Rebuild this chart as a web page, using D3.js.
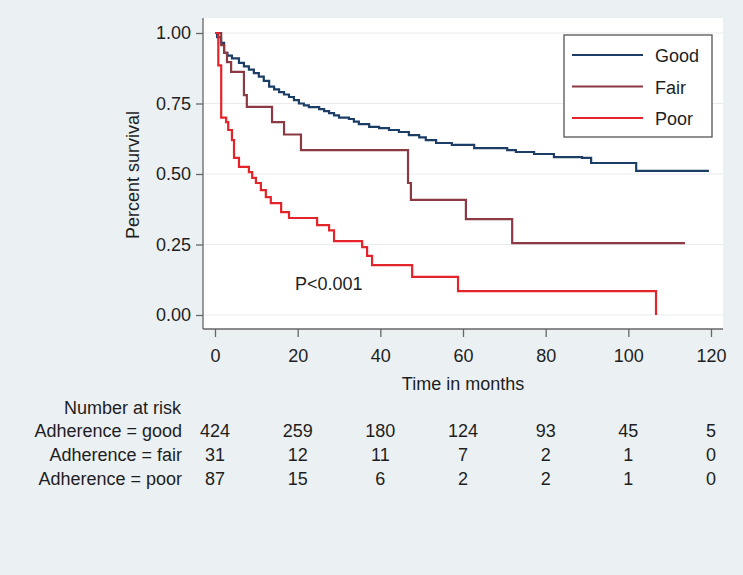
<!DOCTYPE html>
<html>
<head>
<meta charset="utf-8">
<script src="https://cdn.jsdelivr.net/npm/d3@7"></script>
<style>
	body { margin: 0; background: #ebf0f3; }
	text { font-family: "Liberation Sans", Arial, sans-serif; fill: #1e1e1e; }
</style>
</head>
<body>
<div id="chart-area"></div>
<script>
// Kaplan-Meier survival by adherence

let xTicks = [0, 20, 40, 60, 80, 100, 120];
let yTicks = [0, 0.25, 0.5, 0.75, 1];

let groups = ["Good", "Fair", "Poor"];
let groupColors = ["#1c3d66", "#8b3a44", "#e4242b"];

let goodTime = [0, 0.5, 1.45, 2.2, 3.0, 4.1, 5.8, 7.0, 8.2, 9.4, 10.6, 11.8, 13.1, 14.3, 15.5, 16.7, 17.9, 19.1, 20.3, 21.5, 22.7, 25.2, 26.4, 27.6, 28.8, 30.0, 32.4, 33.6, 34.8, 37.3, 39.7, 42.1, 44.5, 46.9, 49.4, 51.0, 53.5, 57.3, 62.7, 70.7, 72.8, 77.2, 82.0, 88.8, 91.0, 101.9, 119.5];
let goodSurv = [1, 0.985, 0.965, 0.93, 0.92, 0.91, 0.894, 0.882, 0.87, 0.858, 0.845, 0.83, 0.81, 0.8, 0.79, 0.782, 0.773, 0.762, 0.75, 0.743, 0.737, 0.73, 0.723, 0.716, 0.708, 0.7, 0.695, 0.686, 0.677, 0.667, 0.663, 0.656, 0.649, 0.638, 0.63, 0.62, 0.61, 0.603, 0.592, 0.585, 0.578, 0.571, 0.56, 0.557, 0.539, 0.511, 0.511];

let fairTime = [0, 1.5, 2.2, 2.9, 3.9, 7.0, 7.7, 13.8, 16.7, 20.8, 46.7, 47.4, 60.7, 71.9, 113.7];
let fairSurv = [1, 0.957, 0.93, 0.897, 0.862, 0.78, 0.738, 0.684, 0.64, 0.585, 0.468, 0.408, 0.34, 0.255, 0.255];

let poorTime = [0, 0.8, 1.5, 2.7, 3.2, 4.1, 4.6, 5.8, 8.2, 9.0, 9.9, 11.1, 12.3, 13.5, 16.0, 17.9, 24.7, 27.6, 28.8, 35.6, 36.8, 38.0, 47.7, 58.8, 106.7];
let poorSurv = [1, 0.885, 0.7, 0.684, 0.656, 0.62, 0.557, 0.525, 0.507, 0.486, 0.468, 0.443, 0.418, 0.397, 0.365, 0.344, 0.319, 0.3, 0.262, 0.241, 0.21, 0.177, 0.135, 0.085, 0];

let riskLabels = ["Adherence = good", "Adherence = fair", "Adherence = poor"];
let riskGood = [424, 259, 180, 124, 93, 45, 5];
let riskFair = [31, 12, 11, 7, 2, 1, 0];
let riskPoor = [87, 15, 6, 2, 2, 1, 0];

let width = 743;
let height = 575;
let plot = { left: 203, right: 723, top: 18, bottom: 329 };

let svg = d3.select("#chart-area")
	.append("svg")
	.attr("width", width)
	.attr("height", height);

svg.append("rect")
	.attr("width", width)
	.attr("height", height)
	.attr("fill", "#ebf0f3");

svg.append("rect")
	.attr("x", plot.left)
	.attr("y", plot.top)
	.attr("width", plot.right - plot.left)
	.attr("height", plot.bottom - plot.top)
	.attr("fill", "#ffffff");

let xScale = d3.scaleLinear()
	.domain([0, 120])
	.range([215, 711]);

let yScale = d3.scaleLinear()
	.domain([0, 1])
	.range([315, 33]);

// gridlines
svg.selectAll(".grid")
	.data(yTicks)
	.enter().append("line")
	.attr("class", "grid")
	.attr("x1", plot.left)
	.attr("x2", plot.right)
	.attr("y1", d => yScale(d))
	.attr("y2", d => yScale(d))
	.attr("stroke", "#e9ecee")
	.attr("stroke-width", 1.2);

let yAxisCall = d3.axisLeft(yScale)
	.tickValues(yTicks)
	.tickFormat(d3.format(".2f"))
	.tickSize(7)
	.tickPadding(5);

let yAxis = svg.append("g")
	.attr("transform", `translate(${plot.left}, 0)`)
	.call(yAxisCall);

let xAxisCall = d3.axisBottom(xScale)
	.tickValues(xTicks)
	.tickSize(8)
	.tickPadding(12);

let xAxis = svg.append("g")
	.attr("transform", `translate(0, ${plot.bottom})`)
	.call(xAxisCall);

[xAxis, yAxis].forEach(function(ax){
	ax.select(".domain").remove();
	ax.selectAll(".tick line").attr("stroke", "#666").attr("stroke-width", 1.3);
	ax.selectAll(".tick text")
		.attr("font-size", "18px")
		.attr("font-family", "Liberation Sans, Arial, sans-serif")
		.attr("fill", "#1e1e1e");
});

// axis lines span the whole plot region
svg.append("line")
	.attr("x1", plot.left).attr("x2", plot.left)
	.attr("y1", plot.top).attr("y2", plot.bottom)
	.attr("stroke", "#666").attr("stroke-width", 1.3);

svg.append("line")
	.attr("x1", plot.left).attr("x2", plot.right)
	.attr("y1", plot.bottom).attr("y2", plot.bottom)
	.attr("stroke", "#666").attr("stroke-width", 1.3);

svg.append("text")
	.attr("text-anchor", "middle")
	.attr("transform", "translate(139, 175) rotate(-90)")
	.attr("font-size", "18px")
	.text("Percent survival");

svg.append("text")
	.attr("text-anchor", "middle")
	.attr("x", xScale(60))
	.attr("y", 390)
	.attr("font-size", "18px")
	.text("Time in months");

// survival curves
let series = [
	{ time: goodTime, surv: goodSurv },
	{ time: fairTime, surv: fairSurv },
	{ time: poorTime, surv: poorSurv }
];

let line = d3.line()
	.x(d => xScale(d[0]))
	.y(d => yScale(d[1]))
	.curve(d3.curveStepAfter);

series.forEach(function(s, i){
	svg.append("path")
		.datum(d3.zip(s.time, s.surv))
		.attr("fill", "none")
		.attr("stroke", groupColors[i])
		.attr("stroke-width", 2.2)
		.attr("d", line);
});

svg.append("text")
	.attr("x", 295)
	.attr("y", 290)
	.attr("font-size", "18px")
	.text("P<0.001");

// legend
let legend = svg.append("g")
	.attr("transform", "translate(564, 35)");

legend.append("rect")
	.attr("width", 148)
	.attr("height", 102)
	.attr("fill", "#ffffff")
	.attr("stroke", "#555")
	.attr("stroke-width", 1.3);

groups.forEach(function(grp, i){
	let row = legend.append("g")
		.attr("transform", "translate(0, " + (20 + i * 31.5) + ")");

	row.append("line")
		.attr("x1", 8)
		.attr("x2", 79)
		.attr("stroke", groupColors[i])
		.attr("stroke-width", 2.2);

	row.append("text")
		.attr("x", 91)
		.attr("y", 7)
		.attr("font-size", "18px")
		.text(grp);
});

// number at risk table
svg.append("text")
	.attr("text-anchor", "end")
	.attr("x", 181)
	.attr("y", 414)
	.attr("font-size", "18px")
	.text("Number at risk");

let riskRows = [riskGood, riskFair, riskPoor];

riskRows.forEach(function(vals, i){
	let y = 437 + i * 24;

	svg.append("text")
		.attr("text-anchor", "end")
		.attr("x", 182)
		.attr("y", y)
		.attr("font-size", "18px")
		.text(riskLabels[i]);

	svg.selectAll(".risk" + i)
		.data(vals)
		.enter().append("text")
		.attr("class", "risk" + i)
		.attr("text-anchor", "middle")
		.attr("x", (d, j) => xScale(xTicks[j]))
		.attr("y", y)
		.attr("font-size", "18px")
		.text(d => d);
});
</script>
</body>
</html>
